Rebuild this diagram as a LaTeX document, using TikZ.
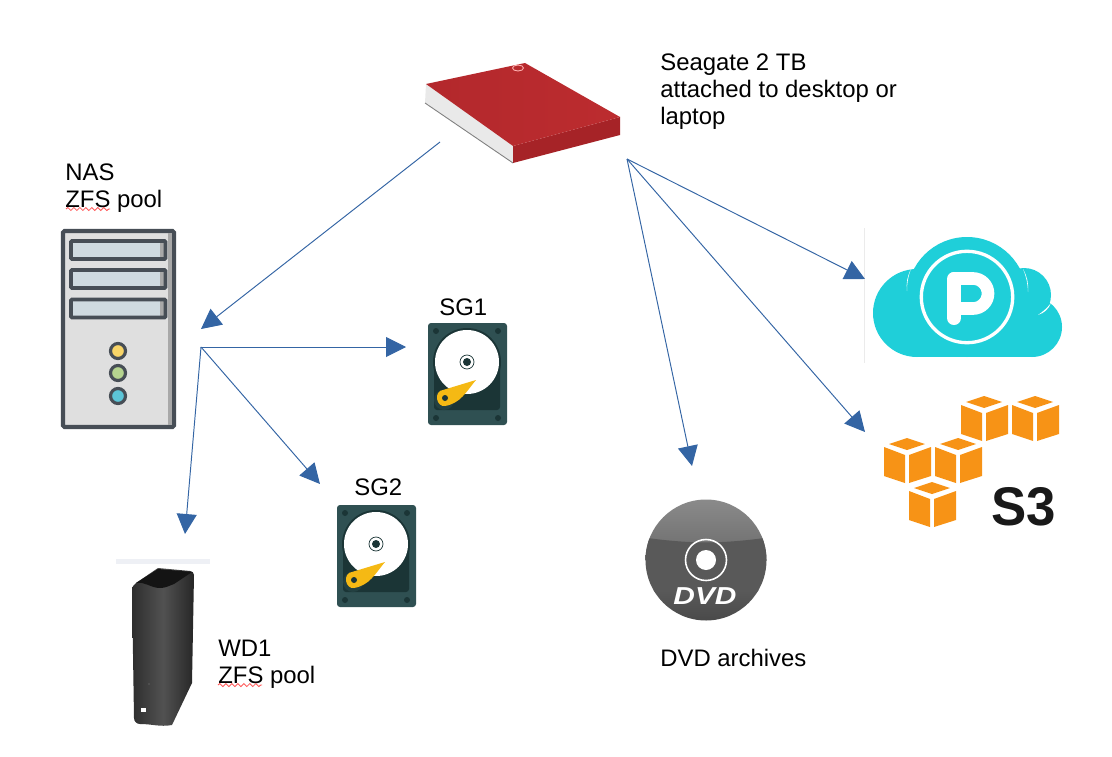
\documentclass[tikz,border=0pt]{standalone}
\usepackage{fontspec}
\setmainfont{Liberation Sans}
\usetikzlibrary{arrows.meta,positioning,decorations.pathmorphing}
\definecolor{linkblue}{HTML}{3465A4}
\definecolor{hddbody}{HTML}{2F5052}
\definecolor{hddinner}{HTML}{1B3536}
\definecolor{hddarm}{HTML}{F5B914}
\definecolor{nasline}{HTML}{474E56}
\definecolor{nasbody}{HTML}{DFDFDF}
\definecolor{nasbay}{HTML}{CFDAE0}
\definecolor{nasstrip}{HTML}{A8A8A8}
\definecolor{cloudcyan}{HTML}{1FCFD9}
\definecolor{cubeorange}{HTML}{F79316}
\definecolor{seagatetop}{HTML}{BC2C2F}
\definecolor{seagateleft}{HTML}{B3282C}
\definecolor{seagatefront}{HTML}{A62327}
\definecolor{seagateside}{HTML}{E9E9E9}
\definecolor{wdbar}{HTML}{EEF0F5}
\tikzset{
  link/.style = {-{Triangle[length=0.4cm,width=0.4cm]}, draw=linkblue, line width=0.55pt},
  caption/.style = {anchor=north west, inner sep=0pt, align=left, font=\fontsize{13.6}{15.4}\selectfont},
  squiggle/.style = {draw=red!65, line width=0.5pt, decorate,
                     decoration={snake, amplitude=0.03cm, segment length=0.12cm}},
  hdd_icon/.pic = {
    \fill[hddbody, rounded corners=0.06cm] (0,0) rectangle (79,102);
    \fill[hddinner, rounded corners=0.06cm] (6,39) rectangle (72,87);
    \fill[hddinner] (39,39) circle (34);
    \foreach \sx/\sy in {8/8, 70/8, 8/95, 70/95}
      \fill[hddinner] (\sx,\sy) circle (3);
    \fill[white] (39,39) circle (32);
    \draw[hddinner, fill=white, line width=0.4pt] (39,39) circle (7);
    \fill[hddinner] (39,39) circle (4);
    \fill[hddinner!60!hddbody] (16,77) circle (10);
    \fill[hddarm] (48,57) -- (15,67) to[out=180,in=100] (9,76) to[out=-80,in=190] (17,83) to[out=10,in=230] cycle;
    \fill[hddinner] (17,75) circle (3);
  },
  s3_cube/.pic = {
    \fill[cubeorange] (0,0) -- (18,6) -- (0,12) -- (-18,6) -- cycle;
    \fill[cubeorange] (-23,9) -- (-2,17) -- (-2,45) -- (-23,38) -- cycle;
    \fill[cubeorange] (2,17) -- (24,9) -- (24,38) -- (2,45) -- cycle;
  },
}

\begin{document}
\begin{tikzpicture}[x=0.02cm, y=-0.02cm]
  \useasboundingbox (0,0) rectangle (1112,757);

  % seagate drive
  \fill[seagateside] (426,84) -- (513,146) -- (513,163) -- (425,103) -- cycle;
  \draw[gray, line width=0.5pt] (425,103) -- (513,163);
  \fill[seagatefront] (513,146) -- (620,117) -- (620,135) -- (513,163) -- cycle;
  \shade[left color=seagateleft, right color=seagatetop] (426,84) -- (525,63) -- (620,117) -- (513,146) -- cycle;
  \draw[white!70!red, line width=0.5pt] (518,68) ellipse (5.5 and 3);

  % NAS box
  \draw[nasline, fill=nasbody, line width=2.4pt, rounded corners=0.03cm] (63,231) rectangle (174,427);
  \fill[nasstrip] (168,233) rectangle (172,425);
  \foreach \by in {241, 270, 299.5} {
    \fill[nasbay] (71,\by) rectangle (165.5,\by+18);
    \fill[nasstrip] (160,\by) rectangle (165.5,\by+18);
    \draw[nasline, line width=2.2pt, rounded corners=0.02cm] (71,\by) rectangle (165.5,\by+18);
  }
  \foreach \ly/\lc in {351/F8D568, 373/B5D48F, 396/5CC5D8} {
    \definecolor{ledfill}{HTML}{\lc}
    \draw[nasline, fill=ledfill, line width=1.8pt] (118,\ly) circle (7.5);
  }

  % disks
  \pic at (428,323) {hdd_icon};
  \pic at (337,505) {hdd_icon};

  % WD drive
  \fill[wdbar] (116,559) rectangle (210,564);
  \shade[left color=black!82, right color=black!85, middle color=black!68]
    (132,590) to[out=90,in=215] (136,583) -- (158,568) -- (190,571) to[out=0,in=90] (194,575)
    -- (192,683) -- (172,725) to[out=190,in=0] (140,724) to[out=180,in=270] (134,718) -- cycle;
  \fill[black!92] (136,583) -- (158,569) -- (192,572) -- (174,584) to[out=200,in=0] (160,588) to[out=180,in=10] cycle;
  \fill[white] (141,708) rectangle (146,712);
  \fill[gray] (149,684) circle (0.7);

  % pcloud logo
  \draw[black!8, line width=0.5pt] (864,228) -- (864,363);
  \fill[cloudcyan] (917,313) circle (44);
  \fill[cloudcyan] (1032,327) circle (30);
  \fill[cloudcyan] (1024,295) circle (27);
  \fill[cloudcyan] (917,320) rectangle (1032,357);
  \fill[cloudcyan] (967,297) circle (60);
  \fill[white] (911,269) to[bend right=16] (907,291) to[bend left=10] cycle;
  \fill[white] (1023,269) to[bend left=16] (1028,292) to[bend right=10] cycle;
  \fill[white] (1051,303) to[bend left=24] (1038,315) to[bend right=8] cycle;
  \draw[white, line width=1.9pt] (967,297) circle (45.7);
  \draw[white, line width=8pt, line cap=round] (954,279) -- (954,318);
  \draw[white, line width=7.2pt, line cap=round, rounded corners=0.3cm] (954,278.5) -- (988,278.5) -- (988,308.5) -- (954,308.5);

  % s3 logo
  \foreach \cx/\cy in {984/396, 1035/396, 907/438, 958/438, 932/482}
    \pic at (\cx,\cy) {s3_cube};
  \node[inner sep=0pt, xscale=0.97, font=\fontsize{31}{31}\selectfont\bfseries, text=black!90] (s3_txt) at (1024,507) {S3};

  % dvd disc
  \begin{scope}
    \clip (706,560) circle (60.5);
    \shade[top color=black!45, bottom color=black!58] (640,495) rectangle (772,560);
    \fill[black!65] (640,537) to[out=-8,in=188] (772,537) -- (772,592) -- (640,592) -- cycle;
    \shade[top color=black!65, bottom color=black!72] (640,590) rectangle (772,625);
  \end{scope}
  \draw[white, line width=0.9pt] (706,560) circle (20.5);
  \fill[white] (706,560) circle (10);
  \node[inner sep=0pt, yscale=0.82, text=white, font=\fontsize{17}{17}\selectfont\bfseries\itshape] (dvd_logo) at (705,596.5) {DVD};

  % captions
  \node[caption] (seagate_lbl) at (660,53) {Seagate 2 TB\\attached to desktop or\\laptop};
  \node[caption] (nas_lbl) at (65,163) {NAS\\ZFS pool};
  \node[caption] (sg1_lbl) at (439,298) {SG1};
  \node[caption] (sg2_lbl) at (354,478) {SG2};
  \node[caption] (wd1_lbl) at (218,640) {WD1\\ZFS pool};
  \node[caption] (dvd_lbl) at (660,649) {DVD archives};
  \draw[squiggle] (66,209) -- (110,209);
  \draw[squiggle] (218,685) -- (262,685);

  % arrow ends
  \coordinate (seagate_out) at (440,142);
  \coordinate (seagate_hub) at (627,159);
  \coordinate (nas_in) at (201,329);
  \coordinate (nas_hub) at (201,347);
  \coordinate (pcloud_in) at (865,279);
  \coordinate (s3_in) at (865,432);
  \coordinate (dvd_in) at (692,466);
  \coordinate (sg1_in) at (406,347);
  \coordinate (sg2_in) at (320,484);
  \coordinate (wd1_in) at (185,534);

  \draw[link] (seagate_out) -- (nas_in);
  \draw[link] (seagate_hub) -- (pcloud_in);
  \draw[link] (seagate_hub) -- (s3_in);
  \draw[link] (seagate_hub) -- (dvd_in);
  \draw[link] (nas_hub) -- (sg1_in);
  \draw[link] (nas_hub) -- (sg2_in);
  \draw[link] (nas_hub) -- (wd1_in);
\end{tikzpicture}
\end{document}
